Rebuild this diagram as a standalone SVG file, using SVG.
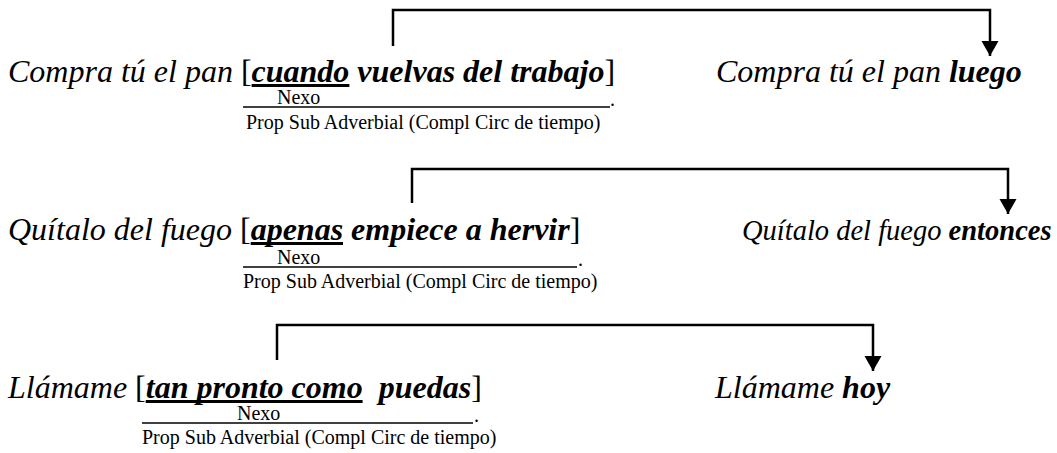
<svg xmlns="http://www.w3.org/2000/svg" width="1057" height="453" viewBox="0 0 1057 453">
<defs>
<style>
text{font-family:"Liberation Serif","Times New Roman",serif;fill:#000;white-space:pre}
.m{font-size:32px}
.i{font-style:italic}
.bi{font-style:italic;font-weight:bold}
.s{font-size:20px}
.ul{stroke:#000;stroke-width:3}
.hl{stroke:#000;stroke-width:1.3}
.conn{fill:none;stroke:#000;stroke-width:2.5}
</style>
<marker id="arr" markerUnits="userSpaceOnUse" markerWidth="18" markerHeight="18" refX="15" refY="9" orient="auto" viewBox="0 0 18 18">
<path d="M0,0.5 L15,9 L0,17.5 Z" fill="#000"/>
</marker>
</defs>
<rect width="1057" height="453" fill="#fff"/>
<g id="connectors">
<path class="conn" d="M393,46 V10 H990 V56" marker-end="url(#arr)"/>
<path class="conn" d="M412,203 V169 H1008 V214" marker-end="url(#arr)"/>
<path class="conn" d="M277,360 V325 H873 V371" marker-end="url(#arr)"/>
</g>
<g id="row1-left">
<text class="m" x="8" y="82"><tspan class="i">Compra tú el pan </tspan><tspan>[</tspan><tspan class="bi">cuando vuelvas del trabajo</tspan><tspan>]</tspan></text>
<line class="ul" x1="251.6" y1="85.5" x2="349.4" y2="85.5"/>
<text class="s" x="277" y="104">Nexo</text>
<line class="hl" x1="243" y1="107" x2="610" y2="107"/>
<text class="s" x="610" y="106">.</text>
<text class="s" x="246" y="129">Prop Sub Adverbial (Compl Circ de tiempo)</text>
</g>
<g id="row1-right">
<text class="m" x="716" y="82"><tspan class="i">Compra tú el pan </tspan><tspan class="bi">luego</tspan></text>
</g>
<g id="row2-left">
<text class="m" x="8" y="240"><tspan class="i">Quítalo del fuego </tspan><tspan>[</tspan><tspan class="bi">apenas empiece a hervir</tspan><tspan>]</tspan></text>
<line class="ul" x1="250.7" y1="243.5" x2="343" y2="243.5"/>
<text class="s" x="277" y="264">Nexo</text>
<line class="hl" x1="243" y1="267" x2="577" y2="267"/>
<text class="s" x="578" y="266">.</text>
<text class="s" x="243" y="288">Prop Sub Adverbial (Compl Circ de tiempo)</text>
</g>
<g id="row2-right">
<text x="742" y="240" style="font-size:28.5px"><tspan class="i">Quítalo del fuego </tspan><tspan class="bi">entonces</tspan></text>
</g>
<g id="row3-left">
<text class="m" x="8" y="398"><tspan class="i">Llámame </tspan><tspan>[</tspan><tspan class="bi">tan pronto como  puedas</tspan><tspan>]</tspan></text>
<line class="ul" x1="145.7" y1="401.5" x2="362.6" y2="401.5"/>
<text class="s" x="237" y="420">Nexo</text>
<line class="hl" x1="142" y1="423" x2="473" y2="423"/>
<text class="s" x="474" y="422">.</text>
<text class="s" x="142" y="444">Prop Sub Adverbial (Compl Circ de tiempo)</text>
</g>
<g id="row3-right">
<text class="m" x="715" y="398"><tspan class="i">Llámame </tspan><tspan class="bi">hoy</tspan></text>
</g>
</svg>
